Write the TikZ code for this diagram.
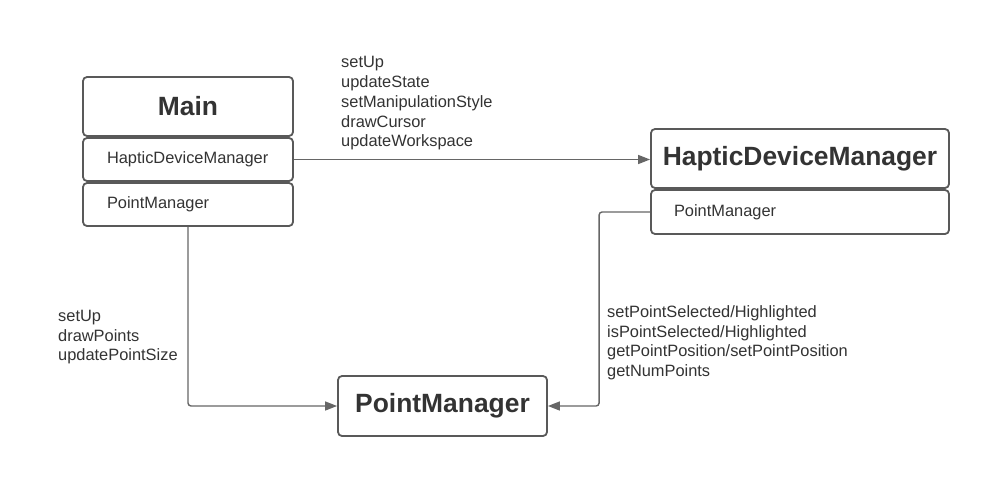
\documentclass[tikz,border=0pt]{standalone}
\usepackage{fontspec}
\setmainfont{Liberation Sans}
\usetikzlibrary{arrows.meta}
\definecolor{txt}{HTML}{333333}
\definecolor{edge}{HTML}{595959}
\definecolor{conn}{HTML}{666666}
\tikzset{
  box/.style={draw=edge, line width=1.8pt, rounded corners=4pt, fill=white, inner sep=0pt, text=txt},
  headbox/.style={box, font=\fontsize{26.4}{30}\selectfont\bfseries},
  rowbox/.style={box, align=left, font=\fontsize{16.4}{19.7}\selectfont},
  lbl/.style={anchor=north west, inner sep=0pt, align=left, text=txt, font=\fontsize{16.4}{19.7}\selectfont},
  conline/.style={draw=conn, line width=1.4pt, rounded corners=3pt, -{Triangle[length=12pt,width=9pt]}}
}
\begin{document}
\begin{tikzpicture}[x=1pt,y=-1pt]
\path[use as bounding box, fill=white] (0,0) rectangle (999,503);
% Main
\node[headbox, minimum width=210pt, minimum height=59pt] (mh) at (188,106.5) {Main};
\node[rowbox, minimum height=43pt, text width=162pt, inner xsep=24pt] (mhdm) at (188,159.5) {HapticDeviceManager};
\node[rowbox, minimum height=43pt, text width=162pt, inner xsep=24pt] (mpm) at (188,204.5) {PointManager};
% HapticDeviceManager
\node[headbox, minimum width=298pt, minimum height=59pt] (hh) at (800,158.5) {HapticDeviceManager};
\node[rowbox, minimum height=44pt, text width=252pt, inner xsep=23pt] (hpm) at (800,212) {PointManager};
% PointManager
\node[headbox, minimum width=209pt, minimum height=60pt] (pm) at (442.5,406) {PointManager};
% connectors
\draw[conline] (mhdm.east) -- (mhdm.east -| hh.west);
\draw[conline] (mpm.south) -- (mpm.south |- pm.west) -- (pm.west);
\draw[conline] (hpm.west) -- ++(-51,0) |- (pm.east);
% labels
\node[lbl] (l1) at (341,56.5) {setUp\\updateState\\setManipulationStyle\\drawCursor\\updateWorkspace};
\node[lbl] (l2) at (58,310) {setUp\\drawPoints\\updatePointSize};
\node[lbl] (l3) at (607,305.5) {setPointSelected/Highlighted\\isPointSelected/Highlighted\\getPointPosition/setPointPosition\\getNumPoints};
\end{tikzpicture}
\end{document}
